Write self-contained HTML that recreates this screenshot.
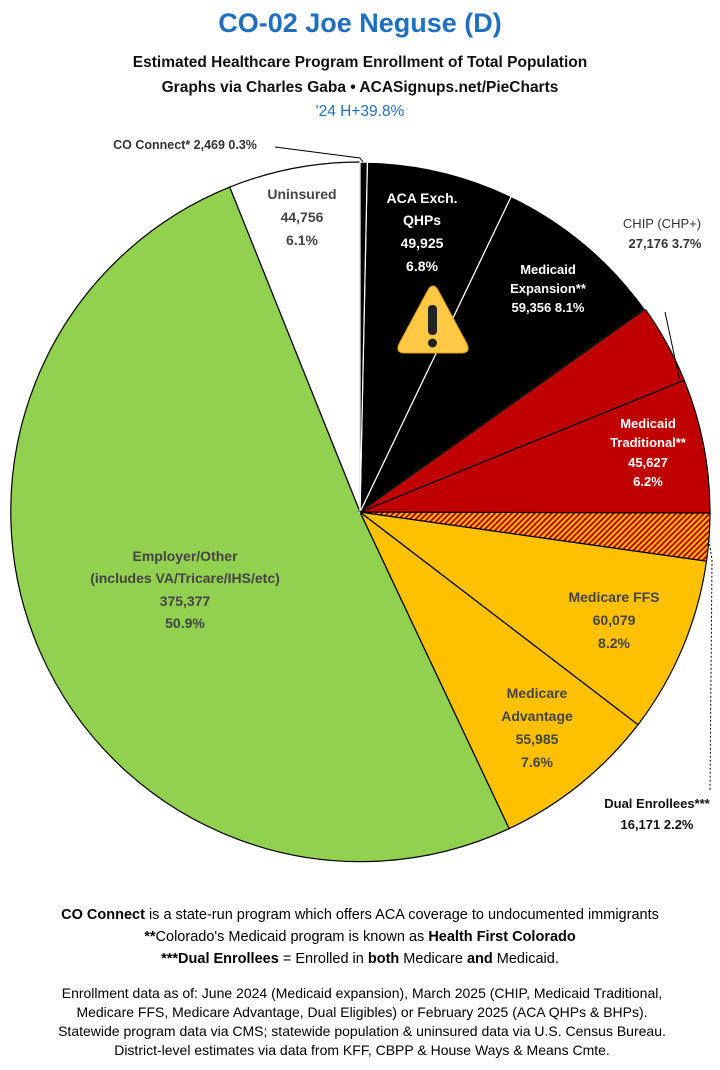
<!DOCTYPE html>
<html><head><meta charset="utf-8"><style>
body{margin:0;background:#fff;width:720px;height:1070px;overflow:hidden;font-family:"Liberation Sans",sans-serif}
svg{display:block}
text{font-family:"Liberation Sans",sans-serif}
.b{font-weight:bold}
.n{font-weight:normal}
</style></head><body>
<svg width="720" height="1070" viewBox="0 0 720 1070">
<defs>
<pattern id="h" width="4" height="4" patternUnits="userSpaceOnUse" patternTransform="rotate(45)">
<rect width="4" height="4" fill="#ffc000"/><rect width="2" height="4" fill="#c00000"/>
</pattern>
</defs>
<text class="b" x="360" y="32" text-anchor="middle" font-size="27" fill="#1f6fc0">CO-02 Joe Neguse (D)</text>
<text class="b" x="360" y="67" text-anchor="middle" font-size="15.5" fill="#111">Estimated Healthcare Program Enrollment of Total Population</text>
<text class="b" x="360" y="92" text-anchor="middle" font-size="15.5" fill="#111">Graphs via Charles Gaba  •  ACASignups.net/PieCharts</text>
<text class="n" x="360" y="116" text-anchor="middle" font-size="15.5" fill="#1f6fc0">'24 H+39.8%</text>

<g stroke="#000" stroke-width="1.2">
<path d="M360,512 L229.7,187.1 A350,350 0 0 1 360,162 Z" fill="#fff"/>
<path d="M360,512 L509.2,828.6 A350,350 0 1 1 229.7,187.1 Z" fill="#92d050"/>
<path d="M360,512 L638,724.7 A350,350 0 0 1 509.2,828.6 Z" fill="#ffc000"/>
<path d="M360,512 L706.5,561.1 A350,350 0 0 1 638,724.7 Z" fill="#ffc000"/>
<path d="M360,512 L710,513 A350,350 0 0 1 706.5,561.1 Z" fill="url(#h)"/>
<path d="M360,512 L684.2,380.2 A350,350 0 0 1 710,513 Z" fill="#c00000"/>
<path d="M360,512 L645.3,309.2 A350,350 0 0 1 684.2,380.2 Z" fill="#c00000"/>
</g>
<g stroke="#fff" stroke-width="1.2">
<path d="M360,512 L511.2,196.4 A350,350 0 0 1 645.3,309.2 Z" fill="#000"/>
<path d="M360,512 L367.4,162.1 A350,350 0 0 1 511.2,196.4 Z" fill="#000"/>
<path d="M360,512 L360,162 A350,350 0 0 1 367.4,162.1 Z" fill="#000"/>
</g>
<line x1="360" y1="512" x2="645.3" y2="309.2" stroke="#000" stroke-width="1.2"/>
<path d="M428,290 Q433,282 438,290 L467,344 Q471,353 461,353 L405,353 Q395,353 399,344 Z" fill="#ffc845" stroke="#e0a020" stroke-width="1"/>
<rect x="428" y="305" width="9" height="30" rx="4" fill="#222"/>
<circle cx="432.5" cy="343" r="4.5" fill="#222"/>
<polyline points="275,147 360,158 363,162" fill="none" stroke="#000" stroke-width="1"/>
<polyline points="665,312 680,382" fill="none" stroke="#000" stroke-width="1"/>
<polyline points="709,540 712,560 710,790" fill="none" stroke="#000" stroke-width="1" stroke-dasharray="2,2"/>

<g font-size="14" text-anchor="middle" class="b">
<text x="185" y="149" font-size="12.5" fill="#333">CO Connect* 2,469 0.3%</text>
<text x="302" y="199" fill="#444">Uninsured</text>
<text x="302" y="222" fill="#444">44,756</text>
<text x="302" y="245" fill="#444">6.1%</text>
<text x="422" y="203" fill="#fff">ACA Exch.</text>
<text x="422" y="225" fill="#fff">QHPs</text>
<text x="422" y="248" fill="#fff">49,925</text>
<text x="422" y="271" fill="#fff">6.8%</text>
<text x="548" y="274" fill="#fff" font-size="13">Medicaid</text>
<text x="548" y="293" fill="#fff" font-size="13">Expansion**</text>
<text x="548" y="312" fill="#fff" font-size="13">59,356 8.1%</text>
<text x="662" y="228" fill="#333" font-size="13" class="n">CHIP (CHP+)</text>
<text x="665" y="248" fill="#333" font-size="13">27,176 3.7%</text>
<text x="648" y="428" fill="#fff" font-size="13">Medicaid</text>
<text x="648" y="447" fill="#fff" font-size="13">Traditional**</text>
<text x="648" y="467" fill="#fff" font-size="13">45,627</text>
<text x="648" y="486" fill="#fff" font-size="13">6.2%</text>
<text x="614" y="602" fill="#444">Medicare FFS</text>
<text x="614" y="625" fill="#444">60,079</text>
<text x="614" y="648" fill="#444">8.2%</text>
<text x="537" y="698" fill="#444">Medicare</text>
<text x="537" y="721" fill="#444">Advantage</text>
<text x="537" y="744" fill="#444">55,985</text>
<text x="537" y="767" fill="#444">7.6%</text>
<text x="657" y="808" fill="#111" font-size="13">Dual Enrollees***</text>
<text x="657" y="829" fill="#111" font-size="13">16,171 2.2%</text>
<text x="185" y="561" fill="#444">Employer/Other</text>
<text x="185" y="583" fill="#444">(includes VA/Tricare/IHS/etc)</text>
<text x="185" y="606" fill="#444">375,377</text>
<text x="185" y="628" fill="#444">50.9%</text>
</g>

<g font-size="14.5" text-anchor="middle" fill="#000" class="n">
<text x="360" y="919"><tspan class="b">CO Connect</tspan> is a state-run program which offers ACA coverage to undocumented immigrants</text>
<text x="360" y="941"><tspan class="b">**</tspan>Colorado's Medicaid program is known as <tspan class="b">Health First Colorado</tspan></text>
<text x="360" y="963"><tspan class="b">***Dual Enrollees</tspan> = Enrolled in <tspan class="b">both</tspan> Medicare <tspan class="b">and</tspan> Medicaid.</text>
</g>
<g font-size="14" text-anchor="middle" fill="#000" class="n">
<text x="362" y="998">Enrollment data as of: June 2024 (Medicaid expansion), March 2025 (CHIP, Medicaid Traditional,</text>
<text x="362" y="1017">Medicare FFS, Medicare Advantage, Dual Eligibles) or February 2025 (ACA QHPs &amp; BHPs).</text>
<text x="362" y="1036">Statewide program data via CMS; statewide population &amp; uninsured data via U.S. Census Bureau.</text>
<text x="362" y="1055">District-level estimates via data from KFF, CBPP &amp; House Ways &amp; Means Cmte.</text>
</g>
</svg>
</body></html>
